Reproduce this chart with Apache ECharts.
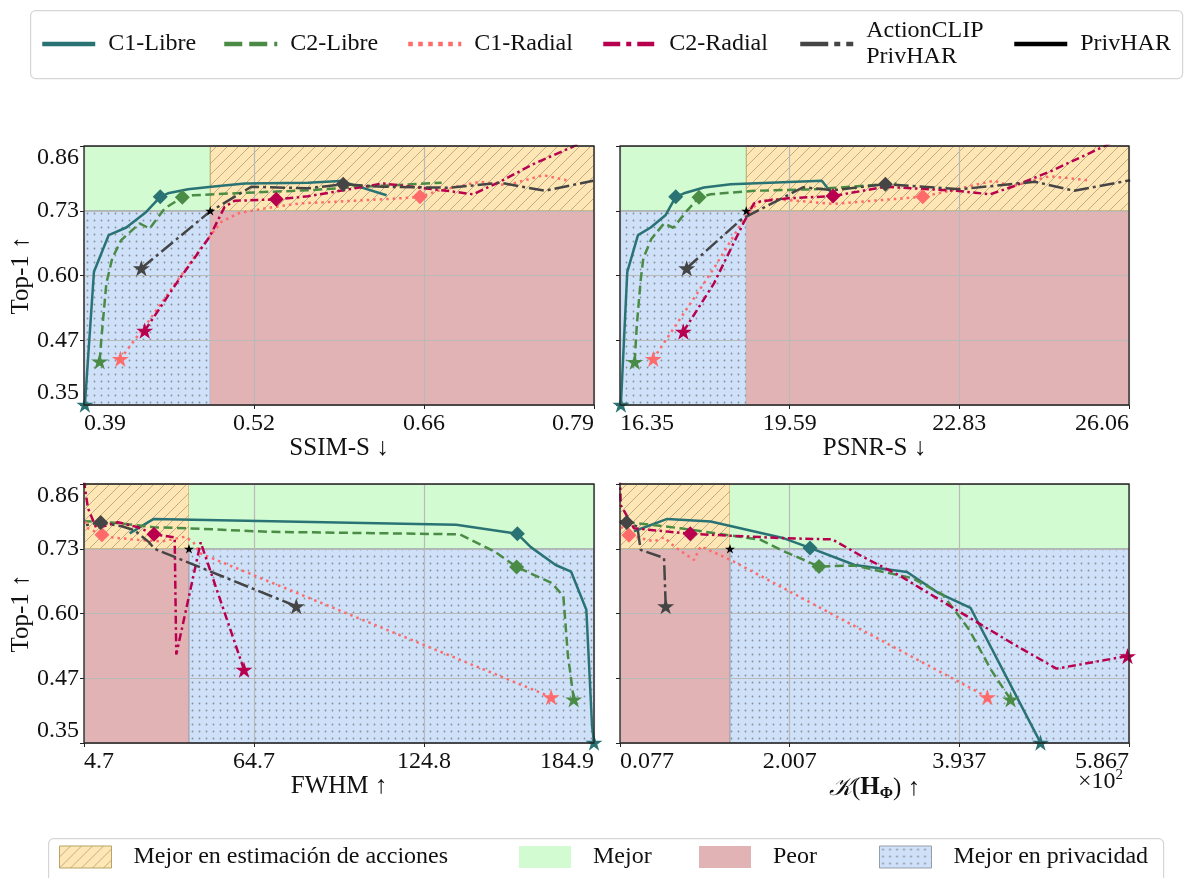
<!DOCTYPE html>
<html>
<head>
<meta charset="utf-8">
<script src="https://cdn.jsdelivr.net/npm/echarts@6.0.0/dist/echarts.min.js"></script>
<style>
  html, body { margin: 0; padding: 0; background: #ffffff; }
  #chart { width: 1187px; height: 878px; }
</style>
</head>
<body>
<div id="chart"></div>
<script>
// ---------------- data ----------------
// Top-1 accuracy axis (shared by the four panels) and the PrivHAR reference point
const top1Range = [0.3452, 0.86];
const privharTop1 = 0.7312;

// x ranges of the four panels: SSIM-S, PSNR-S, FWHM, K(H_Phi) (x10^2)
const ssimRange = [0.387, 0.791];
const psnrRange = [16.353, 26.063];
const fwhmRange = [4.66, 184.9];
const kRange = [0.077, 5.867];

// PrivHAR operating point on each metric
const privharSSIM = 0.487;
const privharPSNR = 18.762;
const privharFWHM = 41.76;
const privharK = 1.328;

// [metric, Top-1] curves — SSIM-S
const ssimC1Libre = [[0.3877,0.346],[0.3949,0.610],[0.4066,0.683],[0.4205,0.698],[0.4363,0.729],[0.4474,0.759],[0.4535,0.766],[0.4694,0.774],[0.4878,0.779],[0.5143,0.7855],[0.5644,0.787],[0.590,0.7906],[0.6267,0.762]];
const ssimC2Libre = [[0.3994,0.432],[0.4007,0.475],[0.4047,0.587],[0.4094,0.637],[0.4165,0.673],[0.4310,0.706],[0.4390,0.696],[0.4509,0.736],[0.4649,0.758],[0.4733,0.762],[0.5143,0.767],[0.5644,0.772],[0.600,0.778],[0.6703,0.787]];
const ssimC1Radial = [[0.4158,0.437],[0.4351,0.501],[0.4614,0.594],[0.4866,0.680],[0.4957,0.709],[0.5090,0.726],[0.5301,0.736],[0.5581,0.746],[0.5844,0.749],[0.6373,0.756],[0.6531,0.759],[0.6690,0.772],[0.7006,0.789],[0.7217,0.782],[0.7508,0.802],[0.7692,0.792]];
const ssimC2Radial = [[0.4351,0.493],[0.4610,0.590],[0.4866,0.680],[0.4984,0.739],[0.5063,0.751],[0.5393,0.754],[0.5644,0.760],[0.6240,0.7855],[0.6743,0.771],[0.6953,0.764],[0.7165,0.789],[0.7429,0.824],[0.7746,0.859],[0.7900,0.880]];
const ssimActionCLIP = [[0.4324,0.617],[0.4865,0.729],[0.5195,0.779],[0.5644,0.776],[0.5923,0.784],[0.6240,0.779],[0.6769,0.777],[0.7165,0.787],[0.7521,0.771],[0.7904,0.791]];

// PSNR-S
const psnrC1Libre = [[16.37,0.346],[16.492,0.610],[16.696,0.683],[16.939,0.698],[17.225,0.723],[17.416,0.759],[17.574,0.766],[17.955,0.7775],[18.465,0.784],[20.203,0.7908],[20.42,0.762]];
const psnrC2Libre = [[16.633,0.431],[16.672,0.501],[16.748,0.594],[16.798,0.637],[16.95,0.675],[17.192,0.706],[17.37,0.6975],[17.62,0.730],[17.86,0.758],[18.083,0.764],[18.909,0.771],[20.054,0.774],[21.629,0.7855]];
const psnrC1Radial = [[16.988,0.437],[17.574,0.528],[18.146,0.617],[18.591,0.693],[18.751,0.721],[18.99,0.748],[19.276,0.755],[20.417,0.745],[22.128,0.759],[23.483,0.791],[23.84,0.780],[24.553,0.800],[25.266,0.792]];
const psnrC2Radial = [[17.561,0.491],[18.146,0.587],[18.718,0.709],[18.909,0.746],[19.037,0.750],[19.561,0.756],[20.417,0.7605],[21.415,0.779],[22.77,0.771],[23.412,0.764],[23.84,0.779],[24.553,0.809],[25.622,0.861],[26.06,0.885]];
const psnrActionCLIP = [[17.625,0.617],[18.656,0.713],[18.791,0.721],[19.846,0.778],[20.417,0.772],[21.415,0.784],[22.841,0.774],[24.267,0.789],[25.016,0.771],[26.085,0.792]];

// FWHM
const fwhmC1Libre = [[184.9,0.346],[184.22,0.379],[182.19,0.610],[176.78,0.686],[171.36,0.699],[162.57,0.7345],[157.83,0.761],[136.18,0.779],[29.28,0.7906],[20.80,0.762]];
const fwhmC2Libre = [[177.72,0.432],[176.4,0.49],[175.69,0.518],[174.07,0.637],[170.01,0.663],[157.56,0.695],[149.71,0.726],[137.53,0.760],[69.87,0.765],[41.46,0.772],[29.28,0.774],[14.3,0.7835],[4.9,0.786]];
const fwhmC1Radial = [[169.74,0.4365],[45.54,0.7226],[43.17,0.7458],[40.24,0.755],[31.97,0.7458],[23.73,0.749],[14.3,0.754],[11.01,0.759],[6.06,0.772],[4.66,0.792]];
const fwhmC2Radial = [[61.2,0.491],[45.9,0.744],[37.27,0.521],[36.7,0.754],[29.39,0.760],[23.73,0.774],[16.67,0.784],[9.0,0.772],[6.06,0.812],[4.66,0.865]];
const fwhmActionCLIP = [[79.68,0.617],[29.64,0.731],[27.5,0.745],[22.5,0.768],[18.0,0.776],[10.55,0.7835],[6.5,0.780],[4.66,0.776]];

// K(H_Phi), in units of 10^2
const kC1Libre = [[4.86,0.346],[4.064,0.614],[3.703,0.643],[3.342,0.685],[3.087,0.691],[2.747,0.699],[2.238,0.733],[1.943,0.752],[1.109,0.7855],[0.615,0.7906],[0.236,0.766]];
const kC2Libre = [[4.52,0.432],[4.30,0.49],[4.05,0.57],[3.75,0.64],[3.40,0.673],[2.739,0.698],[2.341,0.696],[1.905,0.729],[1.677,0.749],[0.767,0.772],[0.274,0.782],[0.08,0.786]];
const kC1Radial = [[4.256,0.4365],[1.336,0.709],[0.995,0.736],[0.919,0.709],[0.70,0.735],[0.578,0.754],[0.464,0.746],[0.179,0.758],[0.085,0.776]];
const kC2Radial = [[5.85,0.518],[5.042,0.493],[4.532,0.544],[3.767,0.624],[3.257,0.678],[2.832,0.716],[2.492,0.750],[1.981,0.752],[0.876,0.761],[0.236,0.772],[0.085,0.818],[0.077,0.87]];
const kActionCLIP = [[0.597,0.617],[0.578,0.713],[0.312,0.729],[0.274,0.7755],[0.153,0.7835],[0.08,0.786]];

// index of the highlighted (diamond) point of each curve, order: C1-Libre, C2-Libre, C1-Radial, C2-Radial, ActionCLIP
const ssimDiamonds = [5, 8, 10, 5, 4];
const psnrDiamonds = [5, 8, 8, 6, 5];
const fwhmDiamonds = [6, 5, 7, 4, 5];
const kDiamonds = [6, 6, 7, 8, 4];

// ---------------- styling ----------------
const FONT = '"Liberation Serif", "DejaVu Serif", serif';
const STAR = 'path://M0,-10L2.245,-3.09L9.511,-3.09L3.633,1.18L5.878,8.09L0,3.82L-5.878,8.09L-3.633,1.18L-9.511,-3.09L-2.245,-3.09Z';

const seriesDefs = [
  { name: 'C1-Libre', color: '#2a7374', dash: 'solid', legendDash: 'solid' },
  { name: 'C2-Libre', color: '#4a8b45', dash: [9, 4.5], legendDash: [18, 7] },
  { name: 'C1-Radial', color: '#ff6b6b', dash: [2.5, 4], legendDash: [4.5, 5.5] },
  { name: 'C2-Radial', color: '#b8004e', dash: [8, 3.5, 2.5, 3.5], legendDash: [17, 6, 5, 6] },
  { name: 'ActionCLIP PrivHAR', color: '#454545', dash: [15, 4, 3, 4], legendDash: [28, 6, 6, 6] }
];

const GREEN = '#d2fbd2';
const RED = '#e2b3b4';

function hatchFill() {
  const s = 11;
  const c = document.createElement('canvas');
  c.width = s; c.height = s;
  const g = c.getContext('2d');
  g.fillStyle = '#fee7b5';
  g.fillRect(0, 0, s, s);
  g.strokeStyle = 'rgba(150,135,100,0.75)';
  g.lineWidth = 0.8;
  for (const k of [-1, 0, 1]) {
    g.beginPath();
    g.moveTo(k * s, s);
    g.lineTo(k * s + s, 0);
    g.stroke();
  }
  return { image: c, repeat: 'repeat' };
}

function dotFill() {
  const s = 7;
  const c = document.createElement('canvas');
  c.width = s; c.height = s;
  const g = c.getContext('2d');
  g.fillStyle = '#cfe0f9';
  g.fillRect(0, 0, s, s);
  g.fillStyle = 'rgba(125,135,140,0.9)';
  g.beginPath();
  g.arc(3.5, 3.5, 0.9, 0, Math.PI * 2);
  g.fill();
  return { image: c, repeat: 'repeat' };
}

const YELLOW = hatchFill();
const BLUE = dotFill();
const zoneStyles = {
  accion: { color: YELLOW, borderColor: 'rgba(175,155,90,0.9)', borderWidth: 1 },
  mejor: { color: GREEN, borderWidth: 0 },
  peor: { color: RED, borderWidth: 0 },
  privacidad: { color: BLUE, borderColor: 'rgba(140,150,160,0.9)', borderWidth: 1 }
};

const panels = [
  { range: ssimRange, privhar: privharSSIM, lowerBetter: true, decimals: 2, name: 'SSIM-S ↓',
    curves: [ssimC1Libre, ssimC2Libre, ssimC1Radial, ssimC2Radial, ssimActionCLIP], diamonds: ssimDiamonds,
    left: 84, top: 146, width: 510 },
  { range: psnrRange, privhar: privharPSNR, lowerBetter: true, decimals: 2, name: 'PSNR-S ↓',
    curves: [psnrC1Libre, psnrC2Libre, psnrC1Radial, psnrC2Radial, psnrActionCLIP], diamonds: psnrDiamonds,
    left: 620, top: 146, width: 509 },
  { range: fwhmRange, privhar: privharFWHM, lowerBetter: false, decimals: 1, name: 'FWHM ↑',
    curves: [fwhmC1Libre, fwhmC2Libre, fwhmC1Radial, fwhmC2Radial, fwhmActionCLIP], diamonds: fwhmDiamonds,
    left: 84, top: 484, width: 510 },
  { range: kRange, privhar: privharK, lowerBetter: false, decimals: 3,
    name: '{k|𝒦}({b|H}{s|Φ}) ↑',
    curves: [kC1Libre, kC2Libre, kC1Radial, kC2Radial, kActionCLIP], diamonds: kDiamonds,
    left: 620, top: 484, width: 509 }
];

// evenly spaced ticks whose ends sit exactly on the axis limits
function linspace(a, b, n) {
  const out = [];
  for (let i = 0; i < n; i++) out.push(i === n - 1 ? b : a + (b - a) * i / (n - 1));
  return out;
}
const yTicks = linspace(top1Range[0], top1Range[1], 5);

const grids = [], xAxes = [], yAxes = [], series = [];

panels.forEach((p, gi) => {
  grids.push({
    left: p.left, top: p.top, width: p.width, height: 259,
    show: true, backgroundColor: 'transparent', borderColor: '#222', borderWidth: 1.3, z: 3
  });
  const xTicks = linspace(p.range[0], p.range[1], 4);
  xAxes.push({
    type: 'value', gridIndex: gi, min: p.range[0], max: p.range[1], z: 1,
    axisLine: { show: false },
    axisTick: { show: true, length: 4, customValues: xTicks, lineStyle: { color: '#222', width: 1 } },
    axisLabel: {
      customValues: xTicks, margin: 7, fontFamily: FONT, fontSize: 24, color: '#111',
      formatter: v => v.toFixed(p.decimals), alignMinLabel: 'left', alignMaxLabel: 'right'
    },
    splitLine: { show: true, lineStyle: { color: '#b9b9b9', width: 1.2 } },
    name: p.name, nameLocation: 'middle', nameGap: 31, nameMoveOverlap: false,
    nameTextStyle: {
      fontFamily: FONT, fontSize: 25, color: '#111',
      rich: {
        k: { fontFamily: '"DejaVu Serif", serif', fontStyle: 'italic', fontSize: 25, color: '#111' },
        b: { fontFamily: FONT, fontWeight: 'bold', fontSize: 25, color: '#111' },
        s: { fontFamily: FONT, fontWeight: 'bold', fontSize: 16, color: '#111', padding: [12, 0, 0, 0] }
      }
    }
  });
  const isLeft = gi % 2 === 0;
  yAxes.push({
    type: 'value', gridIndex: gi, min: top1Range[0], max: top1Range[1], z: 1,
    axisLine: { show: false },
    axisTick: { show: true, length: 4, customValues: yTicks, lineStyle: { color: '#222', width: 1 } },
    axisLabel: {
      show: isLeft, customValues: yTicks, margin: 5, fontFamily: FONT, fontSize: 24, color: '#111',
      formatter: v => v.toFixed(2), verticalAlignMinLabel: 'bottom', verticalAlignMaxLabel: 'top'
    },
    splitLine: { show: true, lineStyle: { color: '#b9b9b9', width: 1.2 } },
    name: isLeft ? 'Top-1 ↑' : '', nameLocation: 'middle', nameGap: 50, nameRotate: 90, nameMoveOverlap: false,
    nameTextStyle: { fontFamily: FONT, fontSize: 25, color: '#111' }
  });

  // performance / privacy zones split at the PrivHAR point
  const [x0, x1] = p.range, [y0, y1] = top1Range, px = p.privhar, t = privharTop1;
  const leftTop = p.lowerBetter ? zoneStyles.mejor : zoneStyles.accion;
  const rightTop = p.lowerBetter ? zoneStyles.accion : zoneStyles.mejor;
  const leftBottom = p.lowerBetter ? zoneStyles.privacidad : zoneStyles.peor;
  const rightBottom = p.lowerBetter ? zoneStyles.peor : zoneStyles.privacidad;

  p.curves.forEach((pts, si) => {
    const d = seriesDefs[si];
    series.push({
      type: 'line', name: d.name, xAxisIndex: gi, yAxisIndex: gi, z: 2, clip: true,
      symbol: 'none', symbolKeepAspect: true, animation: false,
      lineStyle: { color: d.color, width: 2.5, type: d.dash, cap: 'butt' },
      itemStyle: { color: d.color },
      data: pts.map((v, i) => ({
        value: v,
        symbol: i === 0 ? STAR : (i === p.diamonds[si] ? 'diamond' : 'none'),
        symbolSize: i === 0 ? 17 : 15
      }))
    });
  });

  series.push({
    type: 'line', name: 'PrivHAR', xAxisIndex: gi, yAxisIndex: gi, z: 3, animation: false,
    symbol: STAR, symbolSize: 10, symbolKeepAspect: true,
    lineStyle: { color: '#000', width: 2.5 }, itemStyle: { color: '#000' },
    data: [[px, t]],
    markArea: {
      silent: true, z: 0,
      data: [
        [{ coord: [x0, t], itemStyle: leftTop }, { coord: [px, y1] }],
        [{ coord: [px, t], itemStyle: rightTop }, { coord: [x1, y1] }],
        [{ coord: [x0, y0], itemStyle: leftBottom }, { coord: [px, t] }],
        [{ coord: [px, y0], itemStyle: rightBottom }, { coord: [x1, t] }]
      ]
    }
  });
});

// legend-only entries for the zones
const zoneLegend = [
  { name: 'Mejor en estimación de acciones', style: zoneStyles.accion, left: 59 },
  { name: 'Mejor', style: zoneStyles.mejor, left: 519 },
  { name: 'Peor', style: zoneStyles.peor, left: 699 },
  { name: 'Mejor en privacidad', style: zoneStyles.privacidad, left: 879 }
];
zoneLegend.forEach(z => {
  series.push({ type: 'bar', name: z.name, xAxisIndex: 0, yAxisIndex: 0, data: [], itemStyle: z.style });
});

const lineLegendLeft = [40, 222, 406, 601, 798, 1012];
const legends = [];
seriesDefs.concat([{ name: 'PrivHAR', color: '#000', legendDash: 'solid' }]).forEach((d, i) => {
  const twoLines = d.name.indexOf(' ') > 0;
  legends.push({
    left: lineLegendLeft[i], top: twoLines ? 18 : 31, padding: 0,
    itemWidth: 53, itemHeight: 14, selectedMode: false, orient: 'horizontal',
    itemStyle: { opacity: 0 },
    formatter: n => n.replace(' ', '\n'),
    textStyle: { fontFamily: FONT, fontSize: 24, color: '#111', lineHeight: 26, padding: [0, 0, 0, 8] },
    data: [{ name: d.name, lineStyle: { type: d.legendDash, width: 4.5, color: d.color, cap: 'butt' } }]
  });
});
zoneLegend.forEach(z => {
  legends.push({
    left: z.left, top: 844, padding: 0, icon: 'rect',
    itemWidth: 52, itemHeight: 22, selectedMode: false,
    textStyle: { fontFamily: FONT, fontSize: 24, color: '#111', lineHeight: 26, padding: [0, 0, 0, 17] },
    data: [{ name: z.name, itemStyle: z.style }]
  });
});

const chart = echarts.init(document.getElementById('chart'), null, { renderer: 'canvas' });
chart.setOption({
  animation: false,
  backgroundColor: '#ffffff',
  grid: grids,
  xAxis: xAxes,
  yAxis: yAxes,
  legend: legends,
  series: series,
  graphic: [
    { type: 'rect', left: 30, top: 10, z: 0, silent: true,
      shape: { width: 1152, height: 68, r: 5 }, style: { fill: '#fff', stroke: '#d6d6d6', lineWidth: 1.2 } },
    { type: 'rect', left: 48, top: 838, z: 0, silent: true,
      shape: { width: 1115, height: 60, r: 5 }, style: { fill: '#fff', stroke: '#d6d6d6', lineWidth: 1.2 } },
    { type: 'text', left: 1078, top: 768, z: 5, silent: true,
      style: {
        text: '×10{p|2}', fontFamily: FONT, fontSize: 24, fill: '#111',
        rich: { p: { fontFamily: FONT, fontSize: 15, fill: '#111', padding: [0, 0, 12, 0] } }
      } }
  ]
});
</script>
</body>
</html>
